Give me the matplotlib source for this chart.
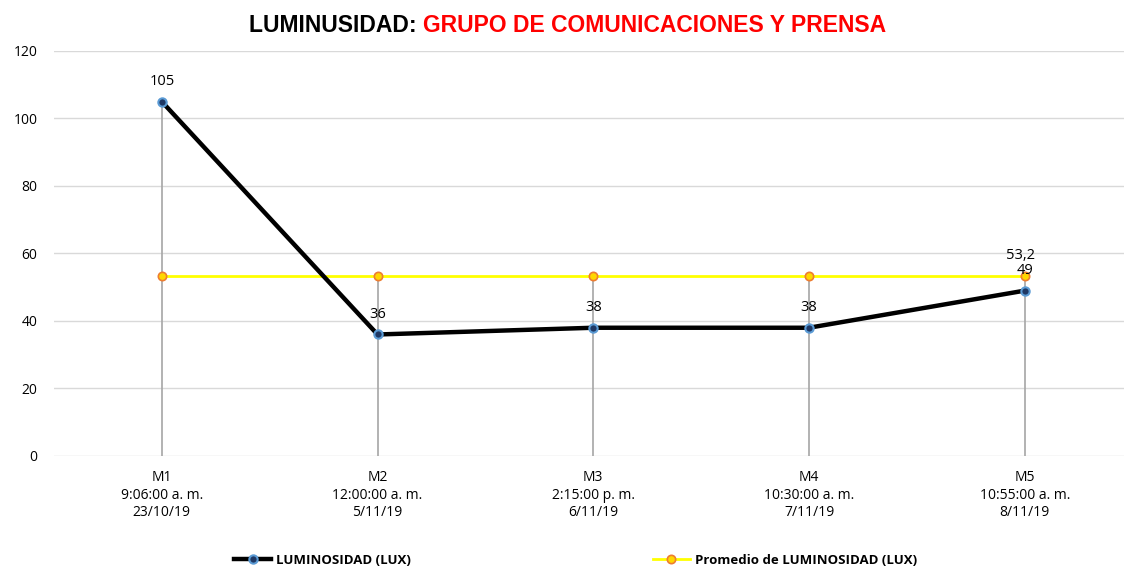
import matplotlib.pyplot as plt

categorias = ["M1\n9:06:00 a. m.\n23/10/19",
              "M2\n12:00:00 a. m.\n5/11/19",
              "M3\n2:15:00 p. m.\n6/11/19",
              "M4\n10:30:00 a. m.\n7/11/19",
              "M5\n10:55:00 a. m.\n8/11/19"]
lux = [105, 36, 38, 38, 49]
promedio = [53.2, 53.2, 53.2, 53.2, 53.2]
yticks = [0, 20, 40, 60, 80, 100, 120]

plt.rcParams['font.family'] = ['Open Sans', 'DejaVu Sans']

fig = plt.figure(figsize=(11.24, 5.69), dpi=100)
ax = fig.add_axes([0.048, 0.1986, 0.952, 0.7118])

x = list(range(len(categorias)))

# drop lines (gris) desde el punto mas alto hasta el eje
tops = [max(a, b) for a, b in zip(lux, promedio)]
ax.vlines(x, 0, tops, color='#a6a6a6', lw=1.2, zorder=1)

ax.plot(x, promedio, color='#ffff00', lw=2, marker='o', ms=6,
        mfc='#ffd700', mec='#ed7d31', mew=1.2, zorder=3,
        label='Promedio de LUMINOSIDAD (LUX)')
ax.plot(x, lux, color='black', lw=3.2, marker='o', ms=6,
        mfc='#1f3864', mec='#5b9bd5', mew=1.5, zorder=4,
        label='LUMINOSIDAD (LUX)')

for xi, v in zip(x, lux):
    ax.annotate(str(v), (xi, v), xytext=(0, 9), textcoords='offset points',
                ha='center', va='bottom', fontsize=10.5)
ax.annotate(str(promedio[-1]).replace('.', ','), (x[-1], promedio[-1]),
            xytext=(-3, 10), textcoords='offset points',
            ha='center', va='bottom', fontsize=10.5)

ax.set_ylim(0, 120)
ax.set_yticks(yticks)
ax.set_xlim(-0.5, 4.46)
ax.set_xticks(x)
ax.set_xticklabels(categorias, fontsize=10, linespacing=1.25)
ax.tick_params(axis='y', labelsize=10, length=0, pad=12)
ax.tick_params(axis='x', length=0, pad=10)
ax.grid(axis='y', color='#d9d9d9', lw=1)
ax.set_axisbelow(True)
for s in ax.spines.values():
    s.set_visible(False)

# titulo en dos colores, centrado
tfont = dict(fontsize=16.5, fontweight='bold', family=['Liberation Sans', 'DejaVu Sans'])
t1 = fig.text(0, 0.955, "LUMINUSIDAD: ", ha='left', va='center', color='black', **tfont)
t2 = fig.text(0, 0.955, "GRUPO DE COMUNICACIONES Y PRENSA", ha='left', va='center',
              color='#ff0000', **tfont)
fig.canvas.draw()
w1 = t1.get_window_extent().width / fig.bbox.width
w2 = t2.get_window_extent().width / fig.bbox.width
x0 = 0.505 - (w1 + w2) / 2
t1.set_x(x0)
t2.set_x(x0 + w1)

handles, labels = ax.get_legend_handles_labels()
leg = fig.legend(handles[::-1], labels[::-1], loc='center', ncol=2,
                 bbox_to_anchor=(0.512, 0.015), frameon=False,
                 prop={'size': 9.5, 'weight': 'bold'}, columnspacing=18.3,
                 handlelength=2.8, handletextpad=0.4)

fig.savefig('out.png', dpi=100)
